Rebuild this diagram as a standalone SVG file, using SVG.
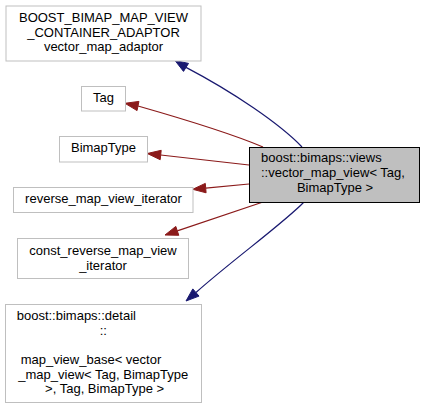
<svg xmlns="http://www.w3.org/2000/svg" width="425" height="409" viewBox="0 0 425 409">
<style>
.box{fill:#ffffff;stroke:#bfbfbf;stroke-width:1}
.main{fill:#bfbfbf;stroke:#000000;stroke-width:1}
text{font-family:"Liberation Sans",Arial,sans-serif;font-size:13px;fill:#000000}
.c{text-anchor:middle}
.s{text-anchor:start}
.blue{fill:none;stroke:#191970;stroke-width:1.2}
.red{fill:none;stroke:#8b1a1a;stroke-width:1.2}
.ab{fill:#191970;stroke:#191970}
.ar{fill:#8b1a1a;stroke:#8b1a1a}
</style>
<rect width="425" height="409" fill="#ffffff"/>
<g id="connectors">
<path class="blue" d="M302,147 C280,124 233,92 186,67.4"/>
<polygon class="ab" points="175,60.5 183.5,71.4 188.5,63.4"/>
<path class="red" d="M263,147 C230,133 180,118 138,106"/>
<polygon class="ar" points="125,103.3 137.05,110.6 138.95,101.4"/>
<path class="red" d="M249,165 L160.7,155"/>
<polygon class="ar" points="147.3,153.5 160.2,159.7 161.2,150.3"/>
<path class="red" d="M249,184 L205.7,188.1"/>
<polygon class="ar" points="192.7,189.3 206.1,192.8 205.3,183.4"/>
<path class="red" d="M263,202 L177.3,230.9"/>
<polygon class="ar" points="165,235 178.8,235.3 175.8,226.4"/>
<path class="blue" d="M304,202 C285,222 230,262 196,292.5"/>
<polygon class="ab" points="186,301 199,296.1 192.8,288.9"/>
</g>
<g id="node-main">
<rect class="main" x="249.5" y="147.5" width="170" height="55"/>
<text class="s" x="261" y="162.3">boost::bimaps::views</text>
<text class="s" x="261" y="177.3">::vector_map_view&lt; Tag,</text>
<text class="c" x="335" y="192.3">BimapType &gt;</text>
</g>
<g id="node-adaptor">
<rect class="box" x="6" y="6" width="195" height="55"/>
<text class="c" x="103.5" y="22">BOOST_BIMAP_MAP_VIEW</text>
<text class="c" x="103.5" y="36.7">_CONTAINER_ADAPTOR</text>
<text class="c" x="103.5" y="51">vector_map_adaptor</text>
</g>
<g id="node-tag">
<rect class="box" x="81.5" y="86.5" width="44" height="24.5"/>
<text class="c" x="103.5" y="102">Tag</text>
</g>
<g id="node-bimaptype">
<rect class="box" x="59.5" y="136.5" width="88" height="25.5"/>
<text class="c" x="103.5" y="152.3">BimapType</text>
</g>
<g id="node-reverse">
<rect class="box" x="13.5" y="187.5" width="179.5" height="25"/>
<text class="c" x="103.5" y="202.5">reverse_map_view_iterator</text>
</g>
<g id="node-const">
<rect class="box" x="17.5" y="238.5" width="171" height="40"/>
<text class="c" x="103" y="255">const_reverse_map_view</text>
<text class="c" x="103" y="269.5">_iterator</text>
</g>
<g id="node-detail">
<rect class="box" x="5.5" y="304.5" width="196" height="98"/>
<text class="s" x="16.7" y="320">boost::bimaps::detail</text>
<text class="c" x="103.3" y="334.5">::</text>
<text class="s" x="20.7" y="364">map_view_base&lt; vector</text>
<text class="c" x="103.3" y="378.8">_map_view&lt; Tag, BimapType</text>
<text class="c" x="104.6" y="393.3">&gt;, Tag, BimapType &gt;</text>
</g>
</svg>
